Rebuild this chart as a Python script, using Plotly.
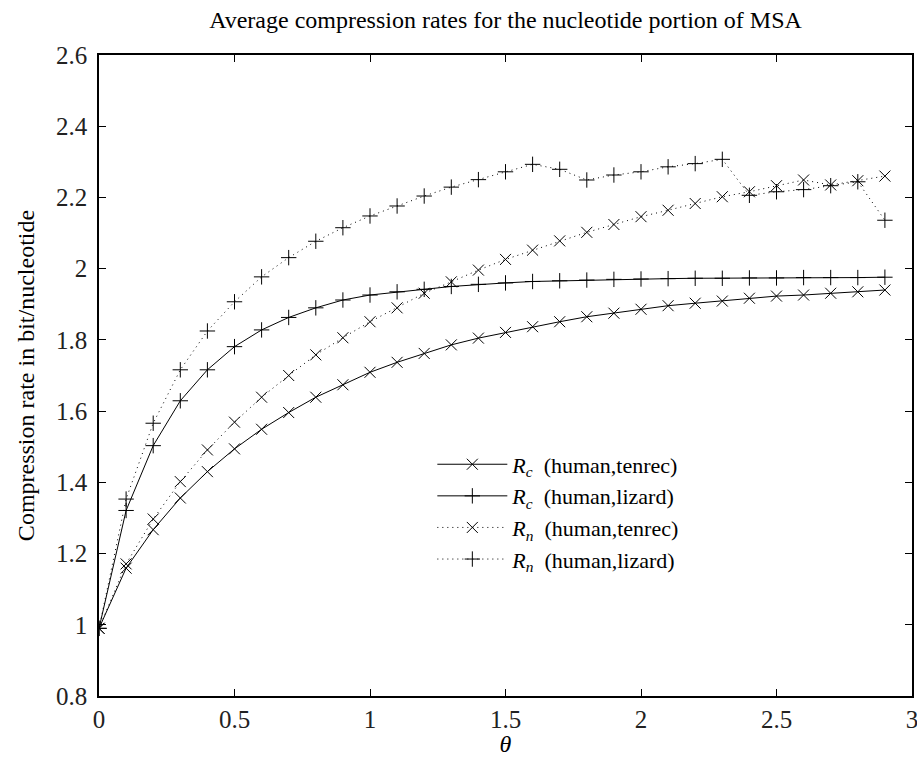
import plotly.graph_objects as go

theta = [round(0.1 * i, 1) for i in range(30)]

rc_tenrec = [0.99, 1.159, 1.267, 1.356, 1.430, 1.494, 1.549, 1.596, 1.639, 1.674,
             1.709, 1.737, 1.762, 1.786, 1.805, 1.821, 1.837, 1.851, 1.865, 1.875,
             1.886, 1.896, 1.903, 1.909, 1.917, 1.923, 1.926, 1.931, 1.935, 1.940]
rc_lizard = [0.99, 1.321, 1.503, 1.629, 1.716, 1.781, 1.828, 1.863, 1.890, 1.912,
             1.926, 1.935, 1.942, 1.950, 1.956, 1.960, 1.964, 1.966, 1.968, 1.970,
             1.971, 1.972, 1.973, 1.973, 1.974, 1.974, 1.975, 1.975, 1.975, 1.976]
rn_tenrec = [0.99, 1.171, 1.297, 1.402, 1.491, 1.569, 1.639, 1.700, 1.758, 1.806,
             1.851, 1.890, 1.931, 1.963, 1.996, 2.026, 2.052, 2.078, 2.102, 2.124,
             2.146, 2.164, 2.183, 2.202, 2.216, 2.233, 2.249, 2.235, 2.247, 2.260]
rn_lizard = [0.99, 1.353, 1.566, 1.716, 1.825, 1.907, 1.977, 2.031, 2.077, 2.115,
             2.148, 2.176, 2.204, 2.229, 2.250, 2.272, 2.293, 2.279, 2.249, 2.263,
             2.272, 2.286, 2.295, 2.307, 2.206, 2.216, 2.222, 2.233, 2.244, 2.136]

x_ticks = [0, 0.5, 1, 1.5, 2, 2.5, 3]
x_tick_labels = ["0", "0.5", "1", "1.5", "2", "2.5", "3"]
y_ticks = [0.8, 1.0, 1.2, 1.4, 1.6, 1.8, 2.0, 2.2, 2.4, 2.6]
y_tick_labels = ["0.8", "1", "1.2", "1.4", "1.6", "1.8", "2", "2.2", "2.4", "2.6"]

series = [
    ("<i>R</i><sub><i>c</i></sub>  (human,tenrec)", rc_tenrec, "solid", "x-thin-open"),
    ("<i>R</i><sub><i>c</i></sub>  (human,lizard)", rc_lizard, "solid", "cross-thin-open"),
    ("<i>R</i><sub><i>n</i></sub>  (human,tenrec)", rn_tenrec, "1px,4px", "x-thin-open"),
    ("<i>R</i><sub><i>n</i></sub>  (human,lizard)", rn_lizard, "1px,4px", "cross-thin-open"),
]

FONT = "'Liberation Serif', 'Times New Roman', serif"
fig = go.Figure()
for name, vals, dash, sym in series:
    fig.add_trace(go.Scatter(
        x=theta, y=vals, name=name, mode="lines+markers",
        line=dict(color="black", width=1, dash=dash),
        marker=dict(symbol=sym, size=11, color="black", line=dict(color="black", width=1)),
    ))

axis_common = dict(
    showline=True, linecolor="black", linewidth=1.5, mirror="ticks",
    ticks="inside", ticklen=7, tickcolor="black", tickwidth=1,
    showgrid=False, zeroline=False, automargin=False,
    ticklabeloverflow="allow",
    tickfont=dict(family=FONT, size=25, color="#222"),
)

fig.update_layout(
    width=917, height=757,
    paper_bgcolor="white", plot_bgcolor="white",
    margin=dict(l=99, r=5, t=55, b=61),
    title=dict(text="Average compression rates for the nucleotide portion of MSA",
               x=0.5, xanchor="center", xref="paper", y=0.9736, yanchor="middle",
               font=dict(family=FONT, size=24, color="black")),
    xaxis=dict(range=[0, 3], tickvals=x_ticks, ticktext=x_tick_labels,
               title=dict(text="<i>θ</i>", font=dict(family=FONT, size=24, color="black"), standoff=2),
               **axis_common),
    yaxis=dict(range=[0.8, 2.6], tickvals=y_ticks, ticktext=y_tick_labels,
               ticklabelstandoff=5,
               title=dict(text="Compression rate in bit/nucleotide", font=dict(family=FONT, size=24, color="black"), standoff=15),
               **axis_common),
    legend=dict(x=0.41, y=0.394, xanchor="left", yanchor="top",
                bgcolor="rgba(0,0,0,0)", borderwidth=0,
                font=dict(family=FONT, size=22, color="black"),
                itemwidth=70, tracegroupgap=0),
    showlegend=True,
)

fig.write_html("out.html",
               config={"displayModeBar": False},
               post_script="document.body.style.margin='0';document.body.style.overflow='hidden';")
